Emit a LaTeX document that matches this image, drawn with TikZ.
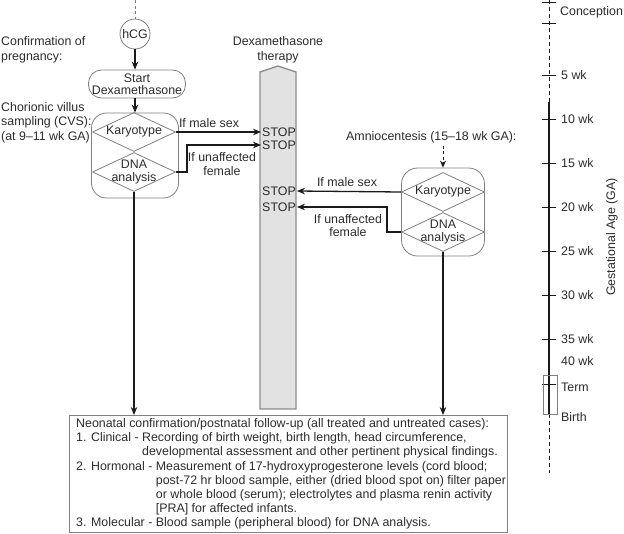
\documentclass[tikz,border=0pt]{standalone}
\usepackage{fontspec}
\setmainfont{Liberation Sans}
\usetikzlibrary{arrows.meta,shapes.geometric,calc}
\definecolor{txtc}{HTML}{2B2B2B}
\definecolor{shpc}{HTML}{7F7F7F}
\definecolor{lnc}{HTML}{1A1A1A}
\definecolor{colfill}{HTML}{E2E2E2}
\begin{document}
\begin{tikzpicture}[x=1pt,y=-1pt,
  font=\fontsize{12.4}{14.5}\selectfont,
  every node/.style={text=txtc},
  shp/.style={draw=shpc, line width=0.8pt},
  arr/.style={draw=lnc, line width=1.3pt, -{Stealth[length=8pt,width=6.5pt]}},
  darr/.style={draw=lnc, line width=0.9pt, dash pattern=on 3pt off 2.5pt, -{Stealth[length=7pt,width=6pt]}},
  dia/.style={shp, diamond, inner sep=0pt, minimum width=83pt, minimum height=39pt},
  stoplbl/.style={inner sep=1pt},
  lbl/.style={align=center, inner sep=0pt},
  tick/.style={draw=lnc, line width=0.9pt},
  tl/.style={anchor=west, inner sep=0pt}
]
\path[use as bounding box] (0,0) rectangle (624,533);

% ---------- left column ----------
\coordinate (topL) at (135,0);
\node[shp, circle, minimum size=30pt, inner sep=0pt] (hcg) at (135,34) {hCG};
\draw[shp, dash pattern=on 3pt off 2.5pt] (topL) -- (hcg.north);
\node[shp, rounded corners=13pt, minimum width=97pt, minimum height=28pt, inner sep=0pt,
      align=center, font=\fontsize{12.4}{12.5}\selectfont] (start) at (137,84) {Start\\Dexamethasone};
\node[shp, rounded corners=15pt, minimum width=87pt, minimum height=85pt] (cvs) at (135,155.5) {};
\node[dia] (k1) at (134,132) {};
\node[inner sep=0pt] at (k1) {Karyotype};
\node[dia] (d1) at (134,172) {};
\node[lbl, font=\fontsize{12.4}{13}\selectfont] at (d1) {DNA\\analysis};

\draw[arr] (hcg) -- (hcg |- start.north);
\draw[arr] (start.south -| cvs.north) -- (cvs.north);

\node[anchor=west, align=left, inner sep=0pt, font=\fontsize{12.4}{15}\selectfont] (conf) at (1,50) {Confirmation of\\pregnancy:};
\node[anchor=west, align=left, inner sep=0pt] (cvslbl) at (1,122.5) {Chorionic villus\\sampling (CVS):\\(at 9–11 wk GA)};

% ---------- Dexamethasone column ----------
\draw[draw=shpc!90, line width=1.3pt, fill=colfill] (260,409) -- (260,72) -- (278,66) -- (296,72) -- (296,409) -- cycle;
\node[lbl, font=\fontsize{12.4}{15}\selectfont] (dexlbl) at (278,50) {Dexamethasone\\therapy};
\node[stoplbl] (s1) at (279,132) {STOP};
\node[stoplbl] (s2) at (279,145) {STOP};
\node[stoplbl] (s3) at (279,191) {STOP};
\node[stoplbl] (s4) at (279,207) {STOP};

\draw[arr] (k1.east) -- (s1.west);
\draw[arr] (d1.east) -- ++(11,0) |- (s2.west);
\node[lbl] (lm1) at (209,123) {If male sex};
\node[lbl, font=\fontsize{12.4}{14}\selectfont] (lu1) at (222,164) {If unaffected\\female};

% ---------- right group ----------
\node[anchor=west, inner sep=0pt] (amnio) at (346,137) {Amniocentesis (15–18 wk GA):};
\node[shp, rounded corners=16pt, minimum width=83pt, minimum height=88pt] (amn) at (443,212) {};
\node[dia] (k2) at (443,192) {};
\node[inner sep=0pt] at (k2) {Karyotype};
\node[dia] (d2) at (443,232) {};
\node[lbl, font=\fontsize{12.4}{13}\selectfont] at (d2) {DNA\\analysis};
\draw[darr] ([yshift=-3pt]amnio.south -| amn.north) -- (amn.north);

\draw[arr] (k2.west) -- (s3.east);
\draw[arr] (d2.west) -- ++(-14,0) |- (s4.east);
\node[lbl] (lm2) at (347,182) {If male sex};
\node[lbl, font=\fontsize{12.4}{13.5}\selectfont] (lu2) at (348,225.5) {If unaffected\\female};

% ---------- bottom box ----------
\node[shp, anchor=north west, minimum width=438pt, minimum height=117pt, inner sep=0pt] (neo) at (69,415) {};
\node[anchor=west, align=left, inner sep=0pt, font=\fontsize{12.4}{14.15}\selectfont] (neotxt) at ([xshift=7pt]neo.west)
{Neonatal confirmation/postnatal follow-up (all treated and untreated cases):\\
1. Clinical - Recording of birth weight, birth length, head circumference,\\
\phantom{1. Clinical - }developmental assessment and other pertinent physical findings.\\
2. Hormonal - Measurement of 17-hydroxyprogesterone levels (cord blood;\\
\phantom{2. Hormonal - }post-72 hr blood sample, either (dried blood spot on) filter paper\\
\phantom{2. Hormonal - }or whole blood (serum); electrolytes and plasma renin activity\\
\phantom{2. Hormonal - }[PRA] for affected infants.\\
3. Molecular - Blood sample (peripheral blood) for DNA analysis.};

\draw[arr] (d1.south) -- (d1.south |- neo.north);
\draw[arr] (d2.south) -- (d2.south |- neo.north);

% ---------- timeline ----------
\draw[draw=lnc, line width=0.9pt, dash pattern=on 4pt off 3pt] (549,0) -- (549,102);
\draw[draw=lnc, line width=1.3pt] (549,102) -- (549,414);
\draw[draw=lnc, line width=0.9pt, dash pattern=on 4pt off 3pt] (549,414) -- (549,473);
\foreach \yy in {2,23,75,119,163,207,251,295,339,384}
  \draw[tick] (542,\yy) -- (556,\yy);
\draw[shp] (543,375) rectangle (557,414);
\node[tl] (tconc) at (560,12) {Conception};
\node[tl] (t5) at (561,75) {5 wk};
\node[tl] (t10) at (561,119) {10 wk};
\node[tl] (t15) at (561,163) {15 wk};
\node[tl] (t20) at (561,207) {20 wk};
\node[tl] (t25) at (561,251) {25 wk};
\node[tl] (t30) at (561,295) {30 wk};
\node[tl] (t35) at (561,339) {35 wk};
\node[tl] (t40) at (561,361) {40 wk};
\node[tl] (tterm) at (561,387) {Term};
\node[tl] (tbirth) at (561,417) {Birth};
\node[rotate=90, inner sep=0pt] (ga) at (612,237) {Gestational Age (GA)};
\end{tikzpicture}
\end{document}
